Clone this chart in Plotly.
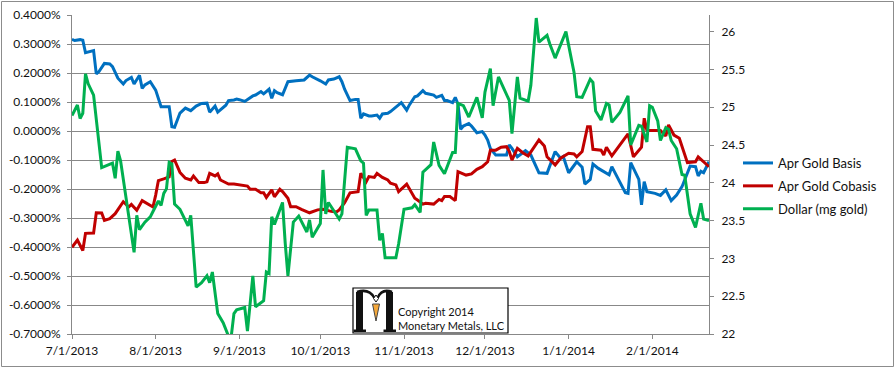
import plotly.graph_objects as go

# ---------------- data ----------------
basis_dates = [
    "2013-07-01","2013-07-02","2013-07-04","2013-07-05","2013-07-06","2013-07-09","2013-07-10","2013-07-11","2013-07-13","2013-07-15",
    "2013-07-16","2013-07-18","2013-07-20","2013-07-21","2013-07-23","2013-07-24","2013-07-26","2013-07-27","2013-07-28","2013-07-30",
    "2013-08-01","2013-08-03","2013-08-06","2013-08-07","2013-08-08","2013-08-10","2013-08-12","2013-08-14","2013-08-16","2013-08-18",
    "2013-08-20","2013-08-21","2013-08-23","2013-08-24","2013-08-27","2013-08-28","2013-08-30","2013-08-31",
    "2013-09-01","2013-09-03","2013-09-06","2013-09-07","2013-09-09","2013-09-10","2013-09-12","2013-09-13","2013-09-14","2013-09-15",
    "2013-09-17","2013-09-19","2013-09-22","2013-09-25","2013-09-27","2013-09-28",
    "2013-10-01","2013-10-03","2013-10-04","2013-10-06","2013-10-08","2013-10-09","2013-10-10","2013-10-12","2013-10-14","2013-10-15",
    "2013-10-16","2013-10-17","2013-10-19","2013-10-20","2013-10-22","2013-10-23","2013-10-24","2013-10-26","2013-10-27","2013-10-30","2013-10-31",
    "2013-11-02","2013-11-03","2013-11-05","2013-11-06","2013-11-08","2013-11-09","2013-11-12","2013-11-13","2013-11-15","2013-11-16",
    "2013-11-17","2013-11-19","2013-11-20","2013-11-21","2013-11-22","2013-11-23","2013-11-25","2013-11-26","2013-11-28","2013-11-30",
    "2013-12-01","2013-12-02","2013-12-03","2013-12-05","2013-12-09","2013-12-10","2013-12-11","2013-12-13","2013-12-15","2013-12-16",
    "2013-12-18","2013-12-21","2013-12-24","2013-12-25","2013-12-27","2013-12-29","2013-12-30",
    "2014-01-01","2014-01-04","2014-01-06","2014-01-07","2014-01-09","2014-01-10","2014-01-12","2014-01-15","2014-01-16","2014-01-17",
    "2014-01-20","2014-01-22","2014-01-23","2014-01-24","2014-01-27","2014-01-28","2014-01-29","2014-01-30",
    "2014-02-02","2014-02-04","2014-02-06","2014-02-08","2014-02-10","2014-02-12","2014-02-15","2014-02-17","2014-02-18","2014-02-19",
    "2014-02-20","2014-02-22",
]
basis_pct = [
    0.316,0.312,0.315,0.313,0.270,0.277,0.197,0.205,0.233,0.231,
    0.222,0.182,0.162,0.174,0.185,0.162,0.192,0.147,0.159,0.170,
    0.141,0.084,0.084,0.015,0.013,0.062,0.079,0.070,0.086,0.095,
    0.096,0.065,0.086,0.065,0.089,0.105,0.107,0.110,
    0.108,0.102,0.121,0.124,0.136,0.128,0.144,0.113,0.139,0.132,
    0.125,0.170,0.173,0.176,0.193,0.187,
    0.173,0.162,0.176,0.179,0.187,0.170,0.144,0.105,0.109,0.109,
    0.044,0.059,0.052,0.052,0.055,0.044,0.059,0.061,0.067,0.090,0.098,
    0.072,0.090,0.118,0.121,0.139,0.130,0.124,0.116,0.123,0.105,
    0.105,0.098,0.116,0.093,0.006,0.017,0.026,0.017,-0.006,-0.002,
    -0.014,-0.031,-0.060,-0.083,-0.083,-0.048,-0.060,-0.089,-0.075,-0.068,
    -0.083,-0.144,-0.146,-0.123,-0.071,-0.094,-0.088,
    -0.144,-0.106,-0.125,-0.183,-0.167,-0.114,-0.129,-0.146,-0.151,-0.123,
    -0.175,-0.213,-0.215,-0.109,-0.167,-0.255,-0.175,-0.209,
    -0.215,-0.222,-0.203,-0.240,-0.221,-0.192,-0.121,-0.123,-0.155,-0.139,
    -0.144,-0.106,
]

cobasis_dates = [
    "2013-07-01","2013-07-03","2013-07-05","2013-07-06","2013-07-09","2013-07-10","2013-07-12","2013-07-13","2013-07-15","2013-07-17",
    "2013-07-20","2013-07-22","2013-07-23","2013-07-25","2013-07-27","2013-07-29","2013-07-31",
    "2013-08-01","2013-08-02","2013-08-04","2013-08-06","2013-08-07","2013-08-08","2013-08-10","2013-08-12","2013-08-14","2013-08-15",
    "2013-08-17","2013-08-19","2013-08-20","2013-08-21","2013-08-23","2013-08-24","2013-08-25","2013-08-28","2013-08-30",
    "2013-09-04","2013-09-05","2013-09-07","2013-09-09","2013-09-10","2013-09-11","2013-09-13","2013-09-14","2013-09-16","2013-09-17",
    "2013-09-19","2013-09-20","2013-09-22","2013-09-24","2013-09-27","2013-09-30",
    "2013-10-02","2013-10-05","2013-10-07","2013-10-08","2013-10-10","2013-10-12","2013-10-15","2013-10-16","2013-10-18","2013-10-19",
    "2013-10-21","2013-10-22","2013-10-24","2013-10-26","2013-10-27","2013-10-29","2013-10-30",
    "2013-11-02","2013-11-04","2013-11-05","2013-11-06","2013-11-08","2013-11-09","2013-11-12","2013-11-14","2013-11-15","2013-11-16",
    "2013-11-18","2013-11-20","2013-11-21","2013-11-24","2013-11-26","2013-11-28","2013-11-30",
    "2013-12-02","2013-12-03","2013-12-05","2013-12-07","2013-12-09","2013-12-10","2013-12-11","2013-12-13","2013-12-15","2013-12-17",
    "2013-12-21","2013-12-23","2013-12-24","2013-12-27","2013-12-29",
    "2014-01-01","2014-01-03","2014-01-04","2014-01-06","2014-01-08","2014-01-09","2014-01-10","2014-01-13","2014-01-14","2014-01-15",
    "2014-01-17","2014-01-20","2014-01-23","2014-01-25","2014-01-28","2014-01-29","2014-01-30","2014-01-31",
    "2014-02-04","2014-02-06","2014-02-07","2014-02-09","2014-02-11","2014-02-14","2014-02-17","2014-02-18","2014-02-20","2014-02-22",
]
cobasis_pct = [
    -0.401,-0.376,-0.412,-0.353,-0.352,-0.282,-0.283,-0.308,-0.302,-0.285,
    -0.244,-0.262,-0.253,-0.273,-0.240,-0.252,-0.262,
    -0.221,-0.171,-0.165,-0.158,-0.105,-0.100,-0.143,-0.163,-0.169,-0.155,
    -0.178,-0.178,-0.175,-0.146,-0.155,-0.148,-0.169,-0.183,-0.183,
    -0.190,-0.201,-0.201,-0.213,-0.213,-0.229,-0.203,-0.227,-0.201,-0.209,
    -0.232,-0.261,-0.261,-0.270,-0.282,-0.272,
    -0.270,-0.277,-0.279,-0.272,-0.247,-0.213,-0.209,-0.146,-0.175,-0.157,
    -0.160,-0.146,-0.160,-0.169,-0.180,-0.186,-0.209,
    -0.183,-0.215,-0.232,-0.238,-0.252,-0.249,-0.252,-0.236,-0.240,-0.226,
    -0.226,-0.240,-0.140,-0.152,-0.148,-0.132,-0.123,
    -0.106,-0.066,-0.066,-0.056,-0.054,-0.070,-0.100,-0.060,-0.075,-0.086,
    -0.031,-0.052,-0.089,-0.117,-0.094,
    -0.077,-0.079,-0.089,-0.071,0.015,0.015,-0.063,-0.066,-0.083,-0.056,
    -0.086,-0.048,-0.010,-0.089,-0.056,0.044,0.002,0.002,
    0.002,-0.017,0.021,-0.014,-0.025,-0.109,-0.106,-0.089,-0.106,-0.123,
]

dollar_dates = [
    "2013-07-01","2013-07-03","2013-07-04","2013-07-05","2013-07-06","2013-07-07","2013-07-09","2013-07-12","2013-07-14","2013-07-16",
    "2013-07-17","2013-07-18","2013-07-19","2013-07-24","2013-07-25","2013-07-26","2013-07-28","2013-07-30","2013-07-31",
    "2013-08-02","2013-08-03","2013-08-04","2013-08-05","2013-08-06","2013-08-07","2013-08-08","2013-08-10","2013-08-13","2013-08-14",
    "2013-08-16","2013-08-18","2013-08-20","2013-08-21","2013-08-22","2013-08-24","2013-08-26","2013-08-28","2013-08-29","2013-08-30","2013-08-31",
    "2013-09-03","2013-09-04","2013-09-06","2013-09-07","2013-09-10","2013-09-11","2013-09-12","2013-09-13","2013-09-14","2013-09-17",
    "2013-09-18","2013-09-19","2013-09-21","2013-09-23","2013-09-26","2013-09-27","2013-09-28",
    "2013-10-01","2013-10-02","2013-10-03","2013-10-04","2013-10-08","2013-10-09","2013-10-11","2013-10-14","2013-10-16","2013-10-17",
    "2013-10-18","2013-10-19","2013-10-22","2013-10-23","2013-10-24","2013-10-25","2013-10-29","2013-10-30",
    "2013-11-01","2013-11-04","2013-11-05","2013-11-07","2013-11-08","2013-11-11","2013-11-12","2013-11-14","2013-11-16","2013-11-19",
    "2013-11-20","2013-11-21","2013-11-23","2013-11-25","2013-11-28","2013-11-30",
    "2013-12-01","2013-12-03","2013-12-04","2013-12-06","2013-12-08","2013-12-10","2013-12-11","2013-12-13","2013-12-14","2013-12-17",
    "2013-12-18","2013-12-20","2013-12-21","2013-12-24","2013-12-25","2013-12-27","2013-12-31",
    "2014-01-03","2014-01-04","2014-01-06","2014-01-09","2014-01-10","2014-01-11","2014-01-13","2014-01-15","2014-01-16","2014-01-17",
    "2014-01-20","2014-01-23","2014-01-24","2014-01-27","2014-01-28","2014-01-30","2014-01-31",
    "2014-02-01","2014-02-03","2014-02-04","2014-02-06","2014-02-07","2014-02-08","2014-02-10","2014-02-12","2014-02-13","2014-02-15",
    "2014-02-17","2014-02-19","2014-02-20","2014-02-22",
]
dollar_mg = [
    24.89,25.03,24.85,24.92,25.44,25.31,25.16,24.20,24.23,24.26,
    24.06,24.42,24.29,23.08,23.57,23.38,23.48,23.55,23.62,
    23.76,23.70,23.86,23.92,24.27,24.25,23.72,23.65,23.43,23.57,
    22.62,22.68,22.77,22.68,22.82,22.27,22.15,21.97,21.97,22.27,22.32,
    22.35,22.04,22.77,22.36,22.44,22.82,22.80,23.55,23.45,23.74,
    23.20,22.77,23.48,23.56,23.35,23.51,23.28,
    23.46,24.17,23.59,23.74,23.52,23.59,24.47,24.45,24.29,24.26,
    23.57,23.64,23.64,23.24,23.33,23.01,23.01,23.19,
    23.65,23.67,23.71,23.61,24.14,24.24,24.54,24.23,24.12,24.40,
    24.40,25.05,25.02,24.87,25.13,24.86,
    25.20,25.51,25.02,25.40,25.25,25.09,24.65,25.40,25.12,25.08,
    25.29,26.18,25.86,25.95,25.84,25.65,26.00,
    25.46,25.14,25.13,25.37,25.33,24.95,24.83,25.05,25.03,24.80,
    24.93,25.15,24.50,24.76,24.75,24.54,25.02,
    25.00,24.82,24.56,24.73,24.71,24.56,24.45,24.11,24.10,23.59,
    23.41,23.73,23.52,23.50,
]

series_names = ["Apr Gold Basis", "Apr Gold Cobasis", "Dollar (mg gold)"]
series_colors = ["#0070C0", "#C00000", "#00B050"]

x_tick_dates = ["2013-07-01","2013-08-01","2013-09-01","2013-10-01","2013-11-01",
                "2013-12-01","2014-01-01","2014-02-01"]
x_tick_labels = ["7/1/2013","8/1/2013","9/1/2013","10/1/2013","11/1/2013",
                 "12/1/2013","1/1/2014","2/1/2014"]
left_ticks = [0.4,0.3,0.2,0.1,0.0,-0.1,-0.2,-0.3,-0.4,-0.5,-0.6,-0.7]
right_ticks = [22,22.5,23,23.5,24,24.5,25,25.5,26]

assert len(basis_dates) == len(basis_pct)
assert len(cobasis_dates) == len(cobasis_pct)
assert len(dollar_dates) == len(dollar_mg)

# ---------------- figure ----------------
W, H = 896, 369
ML, MR, MT, MB = 72, 187, 15, 35
PW, PH = W - ML - MR, H - MT - MB

def px(x):  # page pixel -> paper x
    return (x - ML) / PW

def py(y):  # page pixel -> paper y
    return (H - MB - y) / PH

FONT = "Lato"
TXT = "#111111"
GRID = "#888888"
TICKFONT = dict(family=FONT, size=12, color=TXT)

fig = go.Figure()
fig.add_trace(go.Scatter(x=basis_dates, y=basis_pct, name=series_names[0], mode="lines",
                         line=dict(color=series_colors[0], width=3), legendgroup="a"))
fig.add_trace(go.Scatter(x=cobasis_dates, y=cobasis_pct, name=series_names[1], mode="lines",
                         line=dict(color=series_colors[1], width=3), legendgroup="b"))
fig.add_trace(go.Scatter(x=dollar_dates, y=dollar_mg, name=series_names[2], mode="lines",
                         line=dict(color=series_colors[2], width=3), legendgroup="c", yaxis="y2"))

shapes = [
    # outer chart border
    dict(type="rect", xref="paper", yref="paper", x0=px(1.5), x1=px(893.5), y0=py(1.5), y1=py(366.5),
         line=dict(color="#8c8c8c", width=1), fillcolor="rgba(0,0,0,0)", layer="below"),
    # watermark box
    dict(type="rect", xref="paper", yref="paper", x0=px(353), x1=px(508), y0=py(333), y1=py(288),
         line=dict(color="#000000", width=1.2), fillcolor="white", layer="above"),
    # logo: left stem + serif
    dict(type="rect", xref="paper", yref="paper", x0=px(356), x1=px(363), y0=py(331), y1=py(292),
         line=dict(width=0), fillcolor="#111111", layer="above"),
    dict(type="rect", xref="paper", yref="paper", x0=px(353.5), x1=px(366), y0=py(332), y1=py(329.5),
         line=dict(width=0), fillcolor="#111111", layer="above"),
    # right stem + serif
    dict(type="rect", xref="paper", yref="paper", x0=px(386), x1=px(393), y0=py(331), y1=py(292),
         line=dict(width=0), fillcolor="#111111", layer="above"),
    dict(type="rect", xref="paper", yref="paper", x0=px(383.5), x1=px(396), y0=py(332), y1=py(329.5),
         line=dict(width=0), fillcolor="#111111", layer="above"),
    # arch
    dict(type="path", xref="paper", yref="paper",
         path=(f"M{px(357)},{py(292)} Q{px(369)},{py(288)} {px(374.5)},{py(298)} "
               f"M{px(377.5)},{py(298)} Q{px(382)},{py(288)} {px(392)},{py(292)}"),
         line=dict(color="#111111", width=2.5), layer="above"),
    # figure head
    dict(type="path", xref="paper", yref="paper",
         path=(f"M{px(376)},{py(295)} L{px(378.5)},{py(298.5)} L{px(376)},{py(302)} "
               f"L{px(373.5)},{py(298.5)} Z"),
         line=dict(color="#111111", width=1), fillcolor="white", layer="above"),
    # figure body
    dict(type="path", xref="paper", yref="paper",
         path=(f"M{px(372.5)},{py(304)} L{px(379.5)},{py(304)} L{px(376)},{py(321)} Z"),
         line=dict(color="#444444", width=1), fillcolor="#F5A83A", layer="above"),
]

annotations = [
    dict(xref="paper", yref="paper", x=px(396), y=py(311.5), text="Copyright 2014",
         showarrow=False, xanchor="left", yanchor="middle", font=dict(family=FONT, size=11, color=TXT)),
    dict(xref="paper", yref="paper", x=px(396), y=py(325.5), text="Monetary Metals, LLC",
         showarrow=False, xanchor="left", yanchor="middle", font=dict(family=FONT, size=11, color=TXT)),
]

fig.update_layout(
    width=W, height=H,
    margin=dict(l=ML, r=MR, t=MT, b=MB, pad=0, autoexpand=False),
    paper_bgcolor="white", plot_bgcolor="white",
    font=dict(family=FONT, size=13, color=TXT),
    showlegend=True,
    legend=dict(x=px(738), y=py(148), xanchor="left", yanchor="top",
                font=dict(family=FONT, size=13, color=TXT),
                bgcolor="rgba(0,0,0,0)", borderwidth=0,
                traceorder="grouped", tracegroupgap=3, itemwidth=30),
    xaxis=dict(type="date", range=["2013-07-01", "2014-02-22"], automargin=False,
               tickvals=x_tick_dates, ticktext=x_tick_labels,
               showgrid=False, zeroline=False, showline=True, linecolor=GRID, linewidth=1,
               ticks="outside", ticklen=4, tickcolor=GRID, tickfont=TICKFONT,
               ticklabelstandoff=2),
    yaxis=dict(range=[-0.7, 0.4], tickvals=left_ticks, automargin=False,
               ticktext=[f"{v:.4f}%" for v in left_ticks],
               showgrid=True, gridcolor=GRID, gridwidth=1, zeroline=False,
               showline=True, linecolor=GRID, linewidth=1,
               ticks="outside", ticklen=4, tickcolor=GRID, tickfont=TICKFONT,
               ticklabelstandoff=4),
    yaxis2=dict(range=[22, 26.22], overlaying="y", side="right", automargin=False,
                tickvals=right_ticks, ticktext=[f"{v:g}" for v in right_ticks],
                showgrid=False, zeroline=False, showline=True, linecolor=GRID, linewidth=1,
                ticks="outside", ticklen=4, tickcolor=GRID, tickfont=TICKFONT,
                ticklabelstandoff=5),
    shapes=shapes,
    annotations=annotations,
)

fig.write_html("out.html", config={"displayModeBar": False},
               post_script="document.body.style.margin='0px';")
